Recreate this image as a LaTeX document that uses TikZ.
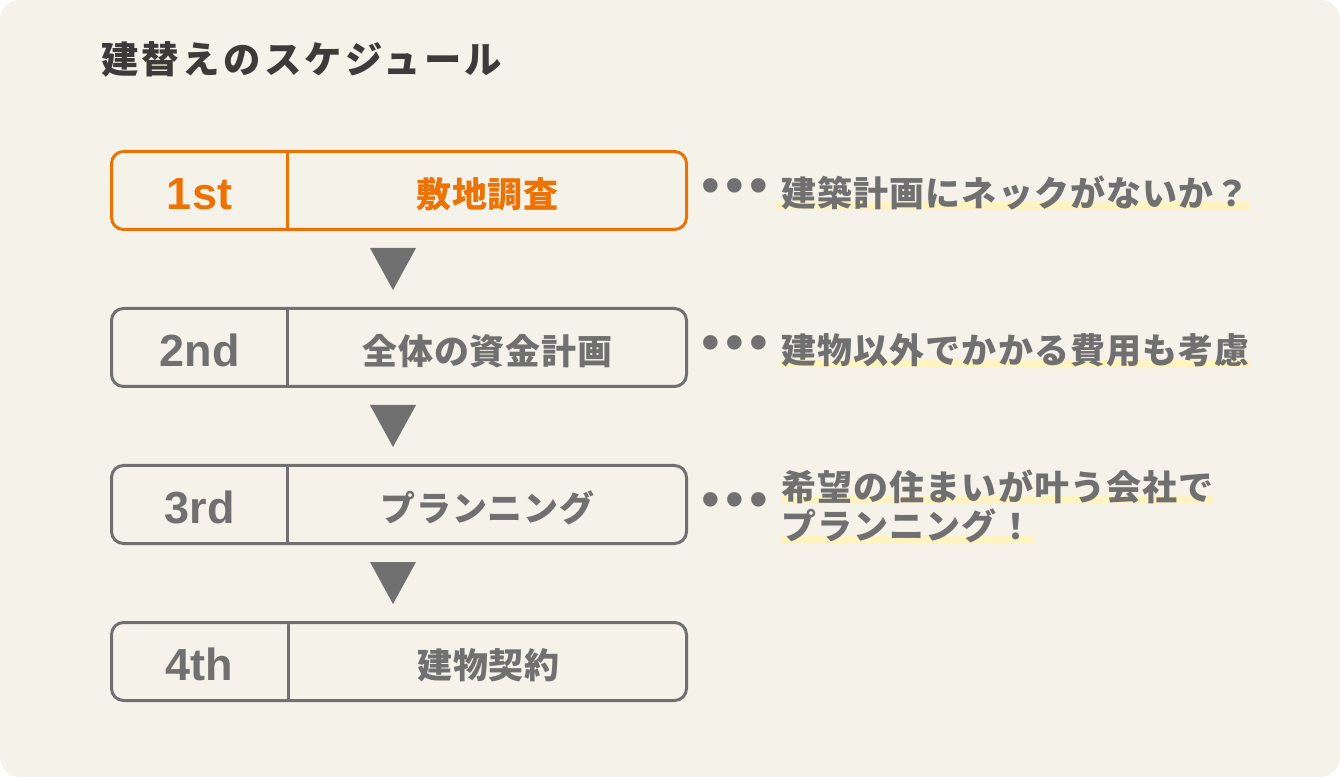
\documentclass[tikz,border=0pt]{standalone}
\usepackage{fontspec}
\setmainfont{Noto Sans CJK JP}
\newfontfamily\numfamily{Liberation Sans}
\usetikzlibrary{positioning,calc,backgrounds}
\definecolor{bgcream}{HTML}{F5F2EA}
\definecolor{stepgray}{HTML}{707070}
\definecolor{steporange}{HTML}{EE7203}
\definecolor{titledark}{HTML}{3E3A39}
\definecolor{markyellow}{HTML}{FFF3C2}
\newcommand{\schedtitle}{\fontsize{28pt}{34pt}\selectfont\bfseries\addfontfeature{LetterSpace=9}}
\newcommand{\schedlabel}{\fontsize{26.25pt}{32pt}\selectfont\bfseries\addfontfeature{LetterSpace=2}}
\newcommand{\schednote}{\fontsize{26.25pt}{32pt}\selectfont\bfseries\addfontfeature{LetterSpace=3}}
\newcommand{\schednum}{\numfamily\fontsize{33.75pt}{40pt}\selectfont\bfseries}
\newcommand{\scheddots}{\numfamily\fontsize{40pt}{48pt}\selectfont}

\begin{document}
\begin{tikzpicture}[x=0.75pt, y=-0.75pt,
  stepbox/.style={draw=stepgray, line width=2.25pt, rounded corners=9pt, minimum width=431.25pt, minimum height=58.5pt, inner sep=0pt, outer sep=0pt},
  numtext/.style={text=stepgray, font=\schednum, inner sep=0pt, yshift=-2.5pt},
  labeltext/.style={text=stepgray, font=\schedlabel, inner sep=0pt, yshift=-2.5pt},
  notetext/.style={text=stepgray, font=\schednote, inner sep=0pt, anchor=west},
  dottext/.style={text=stepgray, font=\scheddots, inner sep=0pt},
  marker/.style={fill=markyellow},
  arrowhead/.style={fill=stepgray}]
\useasboundingbox (0,0) rectangle (1340,777);
\begin{scope}[on background layer]
\fill[bgcream, rounded corners=15pt] (0,0) rectangle (1340,777);
\end{scope}
\node[anchor=west, text=titledark, font=\schedtitle, inner sep=0pt] (title) at (101,59) {建替えのスケジュール};
\node[stepbox, draw=steporange] (b1) at (399,190.5) {};
\draw[steporange, line width=2.25pt] ($(b1.north west)+(176,0)$) -- ($(b1.south west)+(176,0)$);
\node[numtext, text=steporange] (n1) at ($(b1.west)+(88,0)$) {1st};
\node[labeltext, text=steporange] (l1) at ($(b1.west)+(376,0)$) {敷地調査};
\node[stepbox, below=59.25pt of b1] (b2) {};
\draw[stepgray, line width=2.25pt] ($(b2.north west)+(176,0)$) -- ($(b2.south west)+(176,0)$);
\node[numtext] (n2) at ($(b2.west)+(88,0)$) {2nd};
\node[labeltext] (l2) at ($(b2.west)+(376,0)$) {全体の資金計画};
\node[stepbox, below=59.25pt of b2] (b3) {};
\draw[stepgray, line width=2.25pt] ($(b3.north west)+(176,0)$) -- ($(b3.south west)+(176,0)$);
\node[numtext] (n3) at ($(b3.west)+(88,0)$) {3rd};
\node[labeltext] (l3) at ($(b3.west)+(376,0)$) {プランニング};
\node[stepbox, below=59.25pt of b3] (b4) {};
\draw[stepgray, line width=2.25pt] ($(b4.north west)+(177,0)$) -- ($(b4.south west)+(177,0)$);
\node[numtext] (n4) at ($(b4.west)+(88,0)$) {4th};
\node[labeltext] (l4) at ($(b4.west)+(377,0)$) {建物契約};
\coordinate (t1) at ($(b1.south)!0.5!(b2.north)+(-6,0)$);
\fill[arrowhead] ($(t1)+(-23,-21)$) -- ($(t1)+(23,-21)$) -- ($(t1)+(0,21)$) -- cycle;
\coordinate (t2) at ($(b2.south)!0.5!(b3.north)+(-6,0)$);
\fill[arrowhead] ($(t2)+(-23,-21)$) -- ($(t2)+(23,-21)$) -- ($(t2)+(0,21)$) -- cycle;
\coordinate (t3) at ($(b3.south)!0.5!(b4.north)+(-6,0)$);
\fill[arrowhead] ($(t3)+(-23,-21)$) -- ($(t3)+(23,-21)$) -- ($(t3)+(0,21)$) -- cycle;
\node[dottext] (d1) at ($(b1.east)+(48,1)$) {•\hspace{4pt}•\hspace{4pt}•};
\node[notetext] (c1) at ($(b1.east)+(95,2.5)$) {建築計画にネックがないか？};
\node[dottext] (d2) at ($(b2.east)+(48,1)$) {•\hspace{4pt}•\hspace{4pt}•};
\node[notetext] (c2) at ($(b2.east)+(95,2.5)$) {建物以外でかかる費用も考慮};
\node[dottext] (d3) at ($(b3.east)+(48,0.5)$) {•\hspace{4pt}•\hspace{4pt}•};
\node[notetext] (c3a) at ($(b3.east)+(95,-17.5)$) {希望の住まいが叶う会社で};
\node[notetext] (c3b) at ($(c3a.west)+(0,39)$) {プランニング！};
\begin{scope}[on background layer]
\fill[marker] ($(c1.west)+(-7,9)$) rectangle ($(c1.east)+(0,17)$);
\fill[marker] ($(c2.west)+(-3,9)$) rectangle ($(c2.east)+(0,17)$);
\fill[marker] ($(c3a.west)+(0,9)$) rectangle ($(c3a.east)+(0,17)$);
\fill[marker] ($(c3b.west)+(0,9)$) rectangle ($(c3b.east)+(0,17)$);
\end{scope}
\end{tikzpicture}
\end{document}
